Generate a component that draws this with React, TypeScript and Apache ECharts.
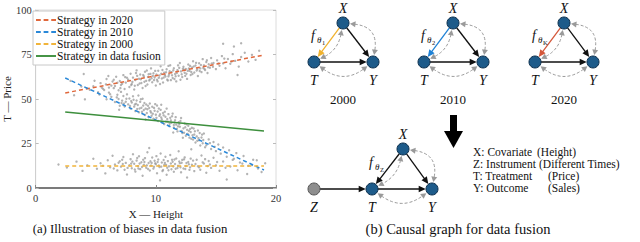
import React, { useEffect, useRef } from 'react';
import * as echarts from 'echarts';

const xTicks = [0, 10, 20];
const yTicks = [0, 25, 50, 75, 100];
const seriesNames = ['Strategy in 2020', 'Strategy in 2010', 'Strategy in 2000', 'Strategy in data fusion'];
const seriesColors = ['#e0683c', '#2a88d8', '#f1b43a', '#3d8f3d'];

const line2020 = [[2.46, 53.4], [19.0, 74.7]];
const line2010 = [[2.46, 61.8], [19.0, 10.1]];
const line2000 = [[2.46, 12.4], [19.0, 12.4]];
const lineFusion = [[2.46, 42.7], [19.0, 32.0]];

const cloud2020 = [
  [3.2,52.1],[3.8,57.0],[4.1,49.8],[4.5,55.2],[4.9,60.3],[5.2,53.8],[5.4,58.9],[5.7,55.1],[5.9,61.2],[6.1,56.4],
  [6.2,52.7],[6.4,59.8],[6.6,57.3],[6.7,62.5],[6.9,54.9],[7.0,60.1],[7.1,57.8],[7.3,63.4],[7.4,55.6],[7.5,59.2],
  [7.6,61.9],[7.8,56.7],[7.9,64.2],[8.0,58.4],[8.1,62.0],[8.2,55.3],[8.3,60.7],[8.4,66.1],[8.5,57.9],[8.6,61.4],
  [8.7,63.8],[8.8,59.0],[8.9,56.2],[9.0,62.7],[9.1,65.3],[9.2,60.2],[9.3,58.1],[9.4,63.9],[9.5,61.0],[9.6,67.2],
  [9.7,59.4],[9.8,64.5],[9.9,62.1],[10.0,57.6],[10.1,60.8],[10.2,65.9],[10.3,63.2],[10.4,68.4],[10.5,61.5],[10.6,59.3],
  [10.7,64.8],[10.8,62.6],[10.9,66.7],[11.0,60.4],[11.1,63.7],[11.2,69.0],[11.3,65.1],[11.4,61.8],[11.5,67.3],[11.6,64.0],
  [11.7,59.9],[11.8,66.2],[11.9,63.1],[12.0,70.2],[12.1,65.5],[12.2,62.4],[12.3,68.1],[12.4,64.7],[12.5,66.9],[12.6,61.3],
  [12.7,69.4],[12.8,65.8],[12.9,63.5],[13.0,67.7],[13.1,71.2],[13.2,64.9],[13.3,68.8],[13.4,66.0],[13.5,62.9],[13.6,70.1],
  [13.7,67.2],[13.8,65.1],[13.9,72.4],[14.0,68.9],[14.1,66.3],[14.2,70.8],[14.3,64.6],[14.4,69.5],[14.5,67.6],[14.6,73.0],
  [14.8,70.2],[15.0,66.8],[15.1,71.7],[15.3,68.7],[15.5,74.1],[15.6,70.0],[15.8,67.3],[16.0,72.5],[16.2,69.8],[16.4,75.2],
  [16.6,71.4],[16.9,68.2],[17.1,73.6],[17.4,76.0],[17.7,71.1],[18.0,74.8],[18.3,72.0],[18.6,77.1],
  [10.4,81.5],[15.6,81.0],[17.1,81.3],[16.5,79.5],[4.0,64.0],[2.9,60.2],[16.8,63.5],
  [7.2,58.6],[7.7,60.9],[8.05,59.6],[8.45,63.0],[8.75,61.1],[9.05,59.7],[9.35,62.4],[9.55,64.1],[9.85,60.6],[10.05,63.8],
  [10.25,61.9],[10.55,66.3],[10.75,63.4],[10.95,60.9],[11.15,65.6],[11.35,63.3],[11.55,61.2],[11.75,64.6],[11.95,67.5],[12.15,63.9],
  [12.35,66.4],[12.55,64.2],[12.75,67.1],[12.95,65.2],[13.15,68.3],[13.45,66.8],[13.75,69.1],[14.05,66.9],[14.35,67.8],[14.65,69.9],
  [6.3,57.5],[6.8,59.1],[5.5,56.4],[9.15,57.3],[10.35,58.4],[11.05,68.6],[12.05,60.8],[8.25,57.4],[9.65,61.7],[10.65,62.0],
  [7.45,62.3],[7.95,57.9],[8.35,64.6],[8.65,58.7],[8.95,63.5],[9.25,66.0],[9.45,60.4],[9.75,63.0],[9.95,65.8],[10.15,59.9],
  [10.45,64.2],[10.85,65.0],[11.05,62.7],[11.25,60.6],[11.45,66.1],[11.65,62.8],[11.85,68.9],[12.25,67.0],[12.45,63.0],[12.65,65.9],
  [12.85,68.6],[13.05,64.0],[13.35,70.3],[13.65,65.7],[13.95,67.4],[14.25,71.8],[14.75,68.1],[15.2,69.9],[15.7,72.7],[16.3,71.0],
  [6.5,60.8],[7.05,56.1],[5.85,58.2],[6.05,62.9]
];

const cloud2010 = [
  [4.8,57.2],[5.3,52.5],[5.6,55.8],[5.9,49.9],[6.1,53.6],[6.3,51.2],[6.5,56.1],[6.6,48.3],[6.8,52.4],[6.9,50.0],
  [7.0,46.2],[7.1,54.0],[7.2,49.1],[7.3,51.7],[7.4,45.8],[7.5,48.5],[7.6,52.6],[7.7,47.0],[7.8,50.3],[7.9,44.6],
  [8.0,48.0],[8.1,51.5],[8.2,45.7],[8.3,43.2],[8.4,49.2],[8.5,46.6],[8.6,42.5],[8.7,48.4],[8.8,45.1],[8.9,50.1],
  [9.0,43.8],[9.1,41.0],[9.2,46.9],[9.3,44.2],[9.4,39.7],[9.5,47.5],[9.6,42.4],[9.7,45.6],[9.8,38.9],[9.9,43.4],
  [10.0,41.2],[10.1,46.3],[10.2,37.6],[10.3,40.5],[10.4,43.9],[10.5,38.6],[10.6,42.1],[10.7,35.9],[10.8,40.0],[10.9,44.6],
  [11.0,37.3],[11.1,34.8],[11.2,39.5],[11.3,36.6],[11.4,41.8],[11.5,33.9],[11.6,38.1],[11.7,35.6],[11.8,31.8],[11.9,37.0],
  [12.0,34.4],[12.1,39.3],[12.2,30.9],[12.3,33.5],[12.4,36.2],[12.5,29.4],[12.6,32.7],[12.7,35.0],[12.8,28.3],[12.9,31.4],
  [13.0,33.8],[13.1,27.2],[13.2,30.1],[13.3,25.6],[13.4,29.0],[13.5,32.3],[13.6,26.8],[13.7,23.9],[13.8,28.4],[13.9,25.1],
  [14.0,30.6],[14.2,24.0],[14.4,27.3],[14.6,21.9],[14.8,25.8],[15.0,20.7],[15.2,24.4],[15.4,19.3],[15.6,22.8],[15.9,17.6],
  [16.1,21.2],[16.4,15.8],[16.7,19.6],[17.0,14.3],[17.3,18.0],[17.7,12.5],[18.1,15.9],[18.5,11.0],
  [7.35,47.4],[7.85,46.1],[8.15,49.6],[8.35,47.3],[8.65,44.7],[8.85,42.8],[9.05,47.8],[9.25,42.1],[9.45,44.9],[9.65,40.6],
  [9.85,45.0],[10.05,39.4],[10.15,43.0],[10.35,41.4],[10.55,36.9],[10.75,42.8],[10.95,38.8],[11.15,36.1],[11.35,40.3],[11.55,36.8],
  [11.75,33.2],[11.95,35.9],[12.15,32.0],[12.45,34.1],[12.65,30.4],[12.85,33.1],[13.05,29.6],[13.25,31.9],[13.55,28.0],[13.85,30.0],
  [9.15,38.5],[10.45,46.8],[11.45,31.2],[8.55,52.0],[12.25,28.2],[6.95,44.0],
  [7.55,50.1],[7.95,48.9],[8.25,46.9],[8.45,44.4],[8.75,49.9],[8.95,46.3],[9.15,44.6],[9.35,46.2],[9.55,43.2],[9.75,41.7],
  [9.95,47.1],[10.25,44.7],[10.45,39.6],[10.65,40.8],[10.85,37.4],[11.05,41.5],[11.25,38.0],[11.5,35.4],[11.65,39.8],[11.85,34.6],
  [12.05,37.6],[12.35,31.0],[12.55,35.8],[12.75,32.1],[12.95,27.7],[13.15,33.4],[13.45,26.5],[13.65,30.9],[13.95,27.0],[14.1,22.9],
  [14.5,25.2],[14.9,23.1],[6.75,50.9],[7.15,47.8]
];

const cloud2000 = [
  [1.9,13.2],[2.6,11.5],[3.4,14.8],[3.9,9.6],[4.3,12.7],[4.8,16.4],[5.1,10.8],[5.4,13.9],[5.8,8.2],[6.0,15.6],
  [6.2,11.7],[6.4,18.1],[6.6,13.2],[6.8,9.9],[7.0,15.0],[7.1,12.0],[7.3,17.4],[7.4,10.3],[7.5,14.1],[7.6,7.6],
  [7.8,12.8],[7.9,16.2],[8.0,11.1],[8.1,19.0],[8.2,13.6],[8.3,9.2],[8.4,15.4],[8.5,12.3],[8.6,17.8],[8.7,10.6],
  [8.8,14.5],[8.9,6.9],[9.0,13.0],[9.1,16.8],[9.2,11.4],[9.3,20.1],[9.4,14.0],[9.5,9.8],[9.6,12.6],[9.7,17.1],
  [9.8,10.9],[9.9,15.3],[10.0,13.4],[10.1,8.3],[10.2,16.0],[10.3,11.8],[10.4,19.4],[10.5,14.3],[10.6,10.1],[10.7,12.9],
  [10.8,17.6],[10.9,7.4],[11.0,15.1],[11.1,12.2],[11.2,18.5],[11.3,10.5],[11.4,14.7],[11.5,9.1],[11.6,13.5],[11.7,16.6],
  [11.8,11.2],[11.9,20.6],[12.0,13.9],[12.1,8.8],[12.2,15.8],[12.3,11.0],[12.4,17.2],[12.5,12.4],[12.6,5.9],[12.7,14.6],
  [12.8,10.2],[12.9,16.5],[13.0,13.1],[13.2,9.5],[13.4,15.9],[13.6,11.6],[13.8,18.3],[14.0,13.8],[14.2,8.6],[14.4,15.2],
  [14.6,11.3],[14.8,17.0],[15.0,12.7],[15.3,9.7],[15.6,14.9],[15.9,4.8],[16.2,12.1],[16.5,16.4],[16.8,10.0],[17.2,13.7],
  [17.6,7.9],[18.0,12.9],[18.4,15.6],[18.8,9.0],[19.1,13.9],
  [8.05,14.8],[8.55,11.0],[8.95,15.9],[9.25,12.7],[9.55,15.0],[9.85,11.9],[10.15,14.6],[10.45,12.0],[10.65,15.7],[10.95,11.4],
  [11.25,13.8],[11.55,16.0],[11.85,12.5],[12.15,14.2],[12.45,10.7],[12.75,13.3],[13.1,15.4],[13.5,12.2],[13.9,14.4],[7.25,13.5],
  [7.65,11.3],[6.9,14.2],[14.3,12.3],[10.35,4.3],[12.95,21.8],[9.45,22.5],
  [7.95,13.7],[8.25,10.4],[8.45,16.9],[8.65,13.8],[8.85,11.8],[9.05,14.6],[9.35,10.7],[9.65,14.1],[9.95,13.9],[10.05,17.9],
  [10.25,12.6],[10.55,9.5],[10.75,14.1],[10.85,13.0],[11.05,10.0],[11.35,15.9],[11.45,12.1],[11.65,10.8],[11.95,14.9],[12.05,11.7],
  [12.35,16.1],[12.55,14.0],[12.85,11.6],[13.3,13.5],[13.7,10.3],[14.1,16.2],[14.5,13.2],[15.1,14.6],[6.5,11.0],[7.2,15.9],
  [5.6,12.5],[15.8,11.4]
];

const years = ['2000', '2010', '2020'];
const edgeColors = ['#f0b22e', '#1f82d6', '#d4573a'];
const fSubs = ['1', '2', 'K'];
const legendLines = [
  ['X: Covariate', '(Height)'],
  ['Z: Instrument', '(Different Times)'],
  ['T: Treatment', '(Price)'],
  ['Y: Outcome', '(Sales)']
];

const SERIF = '"Liberation Serif", "Times New Roman", serif';
const R = 6;
const NODE_FILL = '#1d5b8a';
const NODE_STROKE = '#0c2f4d';
const GRAY = '#9a9a9a';
const DASH_ICON = 'path://M0 0H5V2H0ZM8 0H13V2H8ZM16 0H21V2H16Z';
const SOLID_ICON = 'path://M0 0H21V2H0Z';

type P = [number, number];

function txt(x: number, y: number, text: string, size: number, opts: any = {}) {
  return {
    type: 'text', x, y, silent: true,
    style: {
      text, fontSize: size, fontFamily: SERIF, fontStyle: opts.italic ? 'italic' : 'normal',
      fill: opts.color || '#111',
      align: opts.align || 'center', verticalAlign: 'middle',
      textAlign: opts.align || 'center', textVerticalAlign: 'middle'
    }
  };
}

function head(tip: P, ux: number, uy: number, len: number, hw: number, color: string) {
  const bx = tip[0] - ux * len, by = tip[1] - uy * len;
  return {
    type: 'polygon', silent: true,
    shape: { points: [[tip[0], tip[1]], [bx - uy * hw, by + ux * hw], [bx + uy * hw, by - ux * hw]] },
    style: { fill: color }
  };
}

function solidArrow(a: P, b: P, color: string, out: any[]) {
  const dx = b[0] - a[0], dy = b[1] - a[1];
  const L = Math.hypot(dx, dy);
  const ux = dx / L, uy = dy / L;
  const s: P = [a[0] + ux * R, a[1] + uy * R];
  const t: P = [b[0] - ux * (R + 0.3), b[1] - uy * (R + 0.3)];
  const hl = 7;
  out.push({ type: 'line', silent: true, shape: { x1: s[0], y1: s[1], x2: t[0] - ux * (hl - 1), y2: t[1] - uy * (hl - 1) }, style: { stroke: color, lineWidth: 1.3 } });
  out.push(head(t, ux, uy, hl, 3.3, color));
}

function dashedArc(a: P, b: P, bend: number, out: any[]) {
  const dx = b[0] - a[0], dy = b[1] - a[1];
  const L = Math.hypot(dx, dy);
  const ux = dx / L, uy = dy / L;
  const nx = -uy, ny = ux;
  const c: P = [(a[0] + b[0]) / 2 + nx * bend, (a[1] + b[1]) / 2 + ny * bend];
  const ends: P[] = [];
  const dirs: P[] = [];
  [a, b].forEach((p) => {
    const vx = c[0] - p[0], vy = c[1] - p[1];
    const vl = Math.hypot(vx, vy);
    const e: P = [p[0] + (vx / vl) * (R + 1), p[1] + (vy / vl) * (R + 1)];
    ends.push(e);
    const wx = e[0] - c[0], wy = e[1] - c[1];
    const wl = Math.hypot(wx, wy);
    dirs.push([wx / wl, wy / wl]);
  });
  const hl = 5.5;
  const q0: P = [ends[0][0] - dirs[0][0] * (hl - 1), ends[0][1] - dirs[0][1] * (hl - 1)];
  const q1: P = [ends[1][0] - dirs[1][0] * (hl - 1), ends[1][1] - dirs[1][1] * (hl - 1)];
  out.push({
    type: 'bezierCurve', silent: true,
    shape: { x1: q0[0], y1: q0[1], x2: q1[0], y2: q1[1], cpx1: c[0], cpy1: c[1] },
    style: { stroke: GRAY, lineWidth: 1, lineDash: [3, 2], fill: null }
  });
  out.push(head(ends[0], dirs[0][0], dirs[0][1], hl, 3, GRAY));
  out.push(head(ends[1], dirs[1][0], dirs[1][1], hl, 3, GRAY));
}

function node(p: P, fill = NODE_FILL, stroke = NODE_STROKE) {
  return { type: 'circle', silent: true, shape: { cx: p[0], cy: p[1], r: R }, style: { fill, stroke, lineWidth: 1 } };
}

function fLabel(x: number, y: number, sub: string, out: any[]) {
  out.push(txt(x, y, 'f', 14, { italic: true }));
  out.push(txt(x + 4, y + 5, 'θ', 9, { italic: true, align: 'left' }));
  out.push(txt(x + 9, y + 7, sub, 6.5, { align: 'left' }));
}

function triangle(X: P, T: P, Y: P, xtColor: string, sub: string, out: any[]) {
  dashedArc(X, T, -12, out);
  dashedArc(X, Y, -26, out);
  dashedArc(T, Y, 22, out);
  solidArrow(X, T, xtColor, out);
  solidArrow(X, Y, '#111', out);
  solidArrow(T, Y, '#111', out);
  out.push(node(X), node(T), node(Y));
  out.push(txt(X[0], X[1] - 15, 'X', 14, { italic: true }));
  out.push(txt(T[0], T[1] + 18, 'T', 14, { italic: true }));
  out.push(txt(Y[0], Y[1] + 18, 'Y', 14, { italic: true }));
  fLabel(T[0] - 1, T[1] - 27, sub, out);
}

function buildGraphics() {
  const out: any[] = [];
  const tops: [P, P, P][] = [
    [[343, 23], [314, 62], [373, 62]],
    [[453, 23], [424, 62], [483, 62]],
    [[564, 23], [535, 62], [593, 62]]
  ];
  tops.forEach((g, i) => {
    triangle(g[0], g[1], g[2], edgeColors[i], fSubs[i], out);
    out.push(txt(g[0][0], 99, years[i], 13));
  });
  // down arrow
  out.push({ type: 'rect', silent: true, shape: { x: 450, y: 115, width: 7, height: 17 }, style: { fill: '#000' } });
  out.push({ type: 'polygon', silent: true, shape: { points: [[444, 131], [463, 131], [453.5, 148]] }, style: { fill: '#000' } });
  // bottom graph
  const X: P = [403, 149], T: P = [372, 189], Y: P = [432, 189], Z: P = [314, 189];
  solidArrow(Z, T, '#111', out);
  triangle(X, T, Y, '#111', 'Z', out);
  out.push(node(Z, '#8e8e8e', '#555'));
  out.push(txt(Z[0], Z[1] + 18, 'Z', 14, { italic: true }));
  // right text legend
  const ys = [152, 164, 176, 188];
  const px = [537, 539, 548, 548];
  legendLines.forEach((l, i) => {
    out.push(txt(473, ys[i], l[0], 11.5, { align: 'left' }));
    out.push(txt(px[i], ys[i], l[1], 11.5, { align: 'left' }));
  });
  // captions
  out.push(txt(130, 229, '(a) Illustration of biases in data fusion', 12.8));
  out.push(txt(458, 229, '(b) Causal graph for data fusion', 14.5));
  return out;
}

export default function App() {
  const ref = useRef<HTMLDivElement>(null);
  useEffect(() => {
    if (!ref.current) return;
    const chart = echarts.init(ref.current, null, { renderer: 'svg' });
    const lines = [line2020, line2010, line2000, lineFusion];
    const clouds = [cloud2020, cloud2010, cloud2000];
    const option: any = {
      animation: false,
      backgroundColor: '#fff',
      textStyle: { fontFamily: SERIF },
      grid: { left: 31, right: 364, top: 10, bottom: 54, show: true, borderColor: '#dcdcdc', borderWidth: 1 },
      legend: {
        data: seriesNames.map((n, i) => ({ name: n, icon: i < 3 ? DASH_ICON : SOLID_ICON })),
        orient: 'vertical', left: 33, top: 11,
        itemWidth: 20, itemHeight: 2, itemGap: 0,
        padding: [3, 4, 3, 3],
        backgroundColor: '#fff', borderColor: '#c8c8c8', borderWidth: 1,
        textStyle: { fontFamily: SERIF, fontSize: 11.5, color: '#111', lineHeight: 11.5, padding: [0, 0, 0, -4] }
      },
      xAxis: {
        type: 'value', min: xTicks[0], max: xTicks[xTicks.length - 1], interval: 10,
        name: 'X — Height', nameLocation: 'middle', nameGap: 17,
        nameTextStyle: { fontFamily: SERIF, fontSize: 11, color: '#222' },
        axisLine: { lineStyle: { color: '#555', width: 1.5 } },
        axisTick: { inside: true, length: 3, lineStyle: { color: '#888' } },
        axisLabel: { fontFamily: SERIF, fontSize: 10.5, color: '#333', margin: 5 },
        splitLine: { show: false }
      },
      yAxis: [
        {
          type: 'value', min: yTicks[0], max: yTicks[yTicks.length - 1], interval: 25,
          name: 'T — Price', nameLocation: 'middle', nameGap: 20, nameRotate: 90,
          nameTextStyle: { fontFamily: SERIF, fontSize: 11, color: '#222' },
          axisLine: { show: true, lineStyle: { color: '#cfcfcf' } },
          axisTick: { show: true, inside: true, length: 3, lineStyle: { color: '#bbb' } },
          axisLabel: { fontFamily: SERIF, fontSize: 10.5, color: '#333', margin: 4 },
          splitLine: { show: false }
        },
        {
          type: 'value', position: 'right', min: 0, max: 100, interval: 25,
          axisLine: { show: false },
          axisTick: { show: true, inside: true, length: 3, lineStyle: { color: '#bbb' } },
          axisLabel: { show: false },
          splitLine: { show: false }
        }
      ],
      series: [
        ...clouds.map((c, i) => ({
          type: 'scatter', name: 'cloud' + i, data: c, symbol: 'circle', symbolSize: 2.4,
          itemStyle: { color: '#999', opacity: 0.75 }, silent: true, z: 1
        })),
        ...lines.map((d, i) => ({
          type: 'line', name: seriesNames[i], data: d, symbol: 'none', z: 3,
          lineStyle: { color: seriesColors[i], width: 1.5, type: i < 3 ? [4, 3] : 'solid' },
          itemStyle: { color: seriesColors[i] }
        }))
      ],
      graphic: buildGraphics()
    };
    chart.setOption(option);
    return () => chart.dispose();
  }, []);
  return <div ref={ref} style={{ position: 'fixed', left: 0, top: 0, width: 640, height: 242 }} />;
}
